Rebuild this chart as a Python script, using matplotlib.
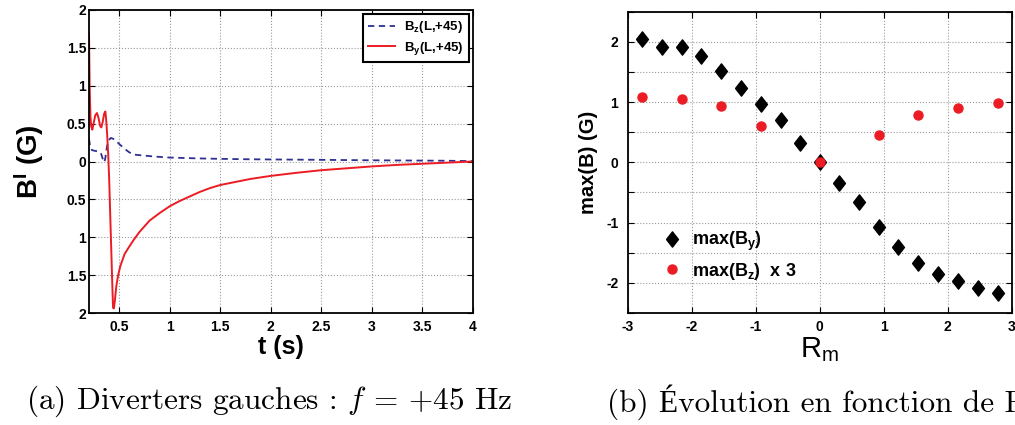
import matplotlib

matplotlib.use("Agg")
import matplotlib.pyplot as plt
from matplotlib.ticker import FixedLocator, FixedFormatter

plt.rcParams["font.family"] = ["Liberation Sans", "DejaVu Sans"]
plt.rcParams["mathtext.fontset"] = "custom"
plt.rcParams["mathtext.rm"] = "Liberation Sans"
plt.rcParams["mathtext.bf"] = "Liberation Sans:bold"
plt.rcParams["mathtext.it"] = "Liberation Sans:italic"

RED = "#ec1c24"
NAVY = "#2e3192"
# matlab-style thin diamond
DIAMOND = [(-0.78, 0.0), (0.0, 1.0), (0.78, 0.0), (0.0, -1.0), (-0.78, 0.0)]

# --- (a) time traces B_y, B_z at f = +45 Hz ---
t_by = [0.200, 0.206, 0.214, 0.222, 0.233, 0.245, 0.262, 0.279, 0.295, 0.310,
        0.322, 0.335, 0.350, 0.362, 0.370, 0.380, 0.390, 0.400, 0.410, 0.420,
        0.430, 0.438, 0.446, 0.455, 0.470, 0.487, 0.510, 0.553, 0.600, 0.650,
        0.700, 0.800, 0.900, 1.000, 1.100, 1.200, 1.300, 1.400, 1.500, 1.650,
        1.800, 2.000, 2.250, 2.500, 2.750, 3.000, 3.250, 3.500, 3.750, 4.000]
by = [1.68, 1.00, 0.60, 0.46, 0.42, 0.50, 0.61, 0.64, 0.57, 0.47,
      0.45, 0.52, 0.63, 0.66, 0.55, 0.35, 0.10, -0.25, -0.70, -1.15,
      -1.60, -1.93, -1.94, -1.85, -1.65, -1.51, -1.38, -1.22, -1.12, -1.02,
      -0.93, -0.78, -0.68, -0.59, -0.52, -0.46, -0.40, -0.35, -0.31, -0.27,
      -0.23, -0.19, -0.15, -0.115, -0.09, -0.065, -0.045, -0.03, -0.015, 0.0]

t_bz = [0.200, 0.212, 0.230, 0.260, 0.300, 0.320, 0.340, 0.352, 0.362, 0.378,
        0.395, 0.415, 0.440, 0.470, 0.500, 0.550, 0.600, 0.650, 0.730, 0.850,
        1.000, 1.250, 1.500, 1.750, 2.000, 2.500, 3.000, 3.500, 3.750, 4.000]
bz = [0.30, 0.18, 0.15, 0.14, 0.13, 0.10, 0.02, -0.01, 0.05, 0.20,
      0.28, 0.31, 0.30, 0.27, 0.23, 0.17, 0.12, 0.09, 0.08, 0.065,
      0.052, 0.042, 0.035, 0.030, 0.027, 0.022, 0.016, 0.012, 0.010, 0.005]

# --- (b) maxima versus Rm ---
rm = [-2.78, -2.47, -2.16, -1.86, -1.54, -1.23, -0.92, -0.61, -0.31, 0.0,
      0.30, 0.61, 0.93, 1.23, 1.54, 1.85, 2.16, 2.47, 2.78]
max_by = [2.05, 1.91, 1.92, 1.77, 1.51, 1.24, 0.97, 0.70, 0.32, 0.0,
          -0.35, -0.65, -1.08, -1.40, -1.67, -1.85, -1.97, -2.09, -2.16]
rm_z = [-2.78, -2.16, -1.54, -0.92, 0.0, 0.93, 1.54, 2.16, 2.78]
max_bz3 = [1.08, 1.055, 0.93, 0.60, 0.0, 0.45, 0.78, 0.91, 0.99]

yticks_a = [-2, -1.5, -1, -0.5, 0, 0.5, 1, 1.5, 2]
ylabels_a = ["2", "1.5", "1", "0.5", "0", "0.5", "1", "1.5", "2"]
xticks_a = [0.5, 1, 1.5, 2, 2.5, 3, 3.5, 4]
xlabels_a = ["0.5", "1", "1.5", "2", "2.5", "3", "3.5", "4"]
yticks_b = [-2.5, -2, -1.5, -1, -0.5, 0, 0.5, 1, 1.5, 2, 2.5]
ylabels_b = ["", "-2", "", "-1", "", "0", "", "1", "", "2", ""]
xticks_b = [-3, -2, -1, 0, 1, 2, 3]
xlabels_b = ["-3", "-2", "-1", "0", "1", "2", "3"]


def _matlab_axes(ax):
    for s in ax.spines.values():
        s.set_linewidth(1.3)
    ax.tick_params(direction="in", length=4, width=0.8, top=True, right=True,
                   labelsize=10)
    for lab in ax.get_xticklabels() + ax.get_yticklabels():
        lab.set_fontweight("bold")
    ax.grid(True, linestyle=":", color="#9a9a9a", linewidth=0.8)


fig = plt.figure(figsize=(10.15, 4.25), dpi=100)
ax1 = fig.add_axes([0.0877, 0.2635, 0.378, 0.713])
ax2 = fig.add_axes([0.6187, 0.2635, 0.378, 0.709])

# left panel
ax1.plot(t_bz, bz, color=NAVY, linestyle="--", linewidth=1.3,
         dashes=(3.5, 2.5), label=r"B$_\mathbf{z}$(L,+45)")
ax1.plot(t_by, by, color=RED, linewidth=1.4, label=r"B$_\mathbf{y}$(L,+45)")
ax1.set_xlim(0.2, 4)
ax1.set_ylim(-2, 2)
ax1.xaxis.set_major_locator(FixedLocator(xticks_a))
ax1.xaxis.set_major_formatter(FixedFormatter(xlabels_a))
ax1.yaxis.set_major_locator(FixedLocator(yticks_a))
ax1.yaxis.set_major_formatter(FixedFormatter(ylabels_a))
_matlab_axes(ax1)
ax1.tick_params(axis="y", pad=2)
ax1.tick_params(axis="x", pad=5)
ax1.set_xlabel("t (s)", fontsize=18, fontweight="bold", labelpad=1)
ax1.set_ylabel(r"$\mathbf{B^I}$ (G)", fontsize=20, fontweight="bold", labelpad=15)
leg = ax1.legend(loc="upper right", bbox_to_anchor=(0.99, 0.987), borderaxespad=0,
                 fancybox=False, prop={"size": 9.5, "weight": "bold"},
                 handlelength=2.0, handletextpad=0.7, borderpad=0.4, labelspacing=0.35)
leg.get_frame().set_edgecolor("black")
leg.get_frame().set_linewidth(1.5)
leg.get_frame().set_alpha(1)

# right panel
ax2.plot(rm, max_by, linestyle="none", marker=DIAMOND, markersize=11, color="black",
         label=r"max(B$_\mathbf{y}$)")
ax2.plot(rm_z, max_bz3, linestyle="none", marker="o", markersize=6.5,
         color=RED, label=r"max(B$_\mathbf{z}$)  x 3")
ax2.set_xlim(-3, 3)
ax2.set_ylim(-2.5, 2.5)
ax2.xaxis.set_major_locator(FixedLocator(xticks_b))
ax2.xaxis.set_major_formatter(FixedFormatter(xlabels_b))
ax2.yaxis.set_major_locator(FixedLocator(yticks_b))
ax2.yaxis.set_major_formatter(FixedFormatter(ylabels_b))
_matlab_axes(ax2)
ax2.tick_params(axis="y", pad=7)
ax2.tick_params(axis="x", pad=5)
ax2.set_xlabel(r"R$_\mathrm{m}$", fontsize=21, labelpad=1)
ax2.set_ylabel("max(B) (G)", fontsize=14.5, fontweight="bold", labelpad=6)
ax2.legend(loc="lower left", bbox_to_anchor=(0.05, 0.05), frameon=False,
           prop={"size": 13, "weight": "bold"}, handlelength=1.0,
           handletextpad=0.6, labelspacing=0.4)

# sub-figure captions (caption b runs off the right edge, as in the source)
fig.text(0.026, 0.055, r"(a) Diverters gauches : $f$ = +45 Hz",
         family=["cmr10", "Liberation Serif"], math_fontfamily="cm",
         fontsize=22.5, va="center")
fig.text(0.598, 0.055, "(b) Évolution en fonction de R",
         family=["cmr10", "Liberation Serif"], fontsize=22.5, va="center")

fig.savefig("out.png", dpi=100)
